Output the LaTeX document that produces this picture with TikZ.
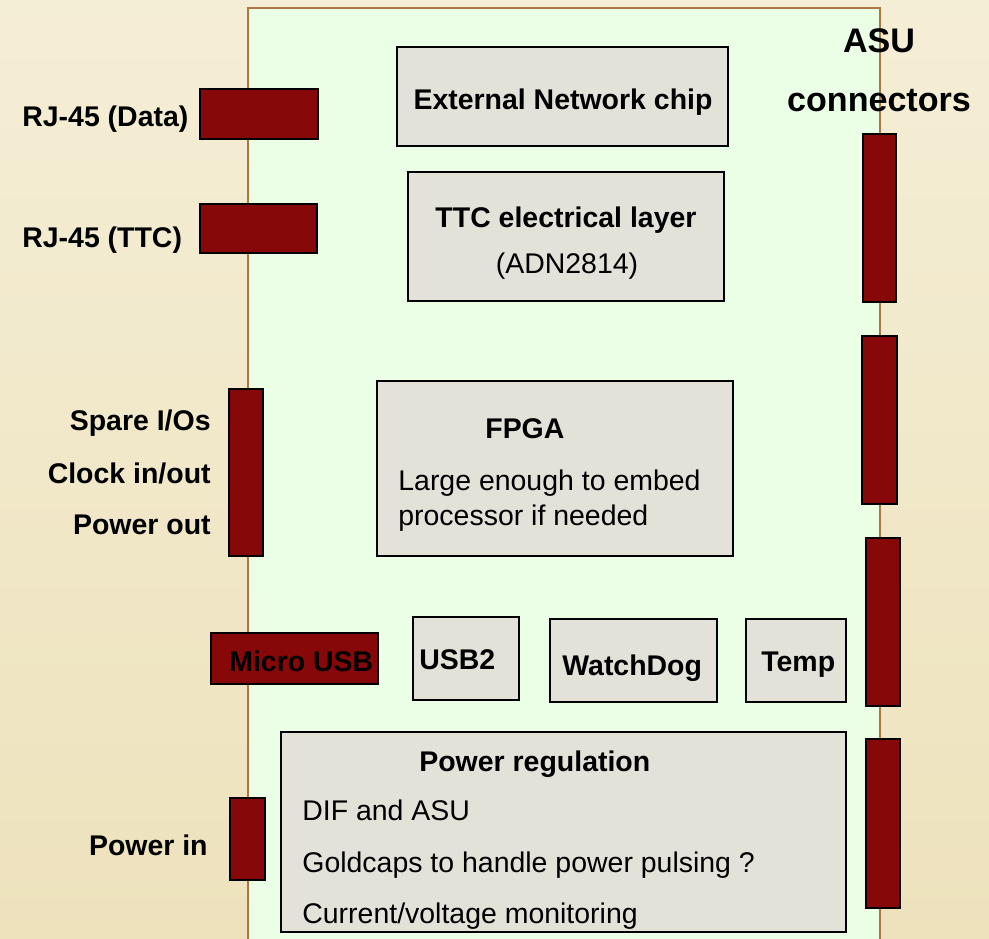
\documentclass[tikz,border=0pt]{standalone}
\usepackage{fontspec}
\setmainfont{Liberation Sans}
\usepackage{tikz}
\usetikzlibrary{positioning}
\definecolor{parchlight}{RGB}{245,238,214}
\definecolor{parchdark}{RGB}{237,226,188}
\definecolor{boardgreen}{RGB}{235,255,230}
\definecolor{boardedge}{RGB}{176,118,66}
\definecolor{connred}{RGB}{135,8,8}
\definecolor{chipgray}{RGB}{227,226,217}

\begin{document}
\begin{tikzpicture}[x=0.02cm, y=-0.02cm,
    every node/.style={inner sep=0pt, font=\fontsize{16.2}{19}\selectfont},
    bold/.style={font=\fontsize{16.2}{19}\selectfont\bfseries},
    big/.style={font=\fontsize{19.4}{23}\selectfont\bfseries},
    conn/.style={draw=black, line width=1.1pt, fill=connred},
    chip/.style={draw=black, line width=0.9pt, fill=chipgray}]
    \useasboundingbox (0,0) rectangle (989,938);
    \clip (0,0) rectangle (989,938);
    \shade[top color=parchlight, bottom color=parchdark] (0,0) rectangle (989,938);

    \path[draw=boardedge, fill=boardgreen, line width=0.8pt] (248,960) -- (248,8) -- (880,8) -- (880,960);

    \path[conn] (200,89) rectangle (318,139)
                (200,204) rectangle (317,253)
                (229,389) rectangle (263,556)
                (211,633) rectangle (378,684)
                (230,798) rectangle (265,880)
                (863,134) rectangle (896,302)
                (862,336) rectangle (897,504)
                (866,538) rectangle (900,706)
                (866,739) rectangle (900,908);

    \path[chip] (397,47) rectangle (728,146)
                (408,172) rectangle (724,301)
                (377,381) rectangle (733,556)
                (413,617) rectangle (519,700)
                (550,619) rectangle (717,702)
                (746,619) rectangle (846,702)
                (281,732) rectangle (846,932);

    \node[big, anchor=base] (asu) at (879,52) {ASU};
    \node[big, anchor=base] (asuconn) at (879,111) {connectors};

    \node[bold, anchor=base west] (rjdata) at (22,126) {RJ-45 (Data)};
    \node[bold, anchor=base west] (rjttc) at (22,247) {RJ-45 (TTC)};
    \node[bold, anchor=base east] (spare) at (211,430) {Spare I/Os};
    \node[bold, anchor=base east] (clock) at (211,483) {Clock in/out};
    \node[bold, anchor=base east] (pwrout) at (211,534) {Power out};
    \node[bold, anchor=base east] (pwrin) at (208,855) {Power in};
    \node[bold, anchor=base west] (microusb) at (229,671) {Micro USB};

    \node[bold, anchor=base] (netchip) at (563,109) {External Network chip};
    \node[bold, anchor=base] (ttc) at (566,227) {TTC electrical layer};
    \node[anchor=base] (adn) at (567,273) {(ADN2814)};

    \node[bold, anchor=base west] (fpga) at (485,438) {FPGA};
    \node[anchor=base west] (fpgaa) at (398,490) {Large enough to embed};
    \node[anchor=base west] (fpgab) at (398,525) {processor if needed};

    \node[bold, anchor=base west] (usb) at (419,669) {USB2};
    \node[bold, anchor=base west] (wdog) at (562,675) {WatchDog};
    \node[bold, anchor=base west] (temp) at (761,671) {Temp};

    \node[bold, anchor=base west] (pwrreg) at (419,771) {Power regulation};
    \node[anchor=base west] (pwra) at (302,820) {DIF and ASU};
    \node[anchor=base west] (pwrb) at (302,872) {Goldcaps to handle power pulsing ?};
    \node[anchor=base west] (pwrc) at (302,923) {Current/voltage monitoring};
\end{tikzpicture}
\end{document}
